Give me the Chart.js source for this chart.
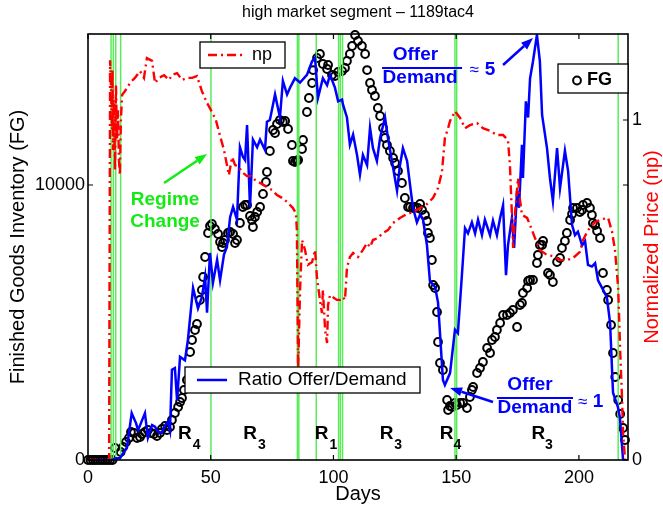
<!DOCTYPE html>
<html>
<head>
<meta charset="utf-8">
<script src="https://cdn.jsdelivr.net/npm/chart.js@4.4.1/dist/chart.umd.min.js"></script>
<style>
html,body{margin:0;padding:0;background:#fff;}
#wrap{width:663px;height:508px;position:relative;}
</style>
</head>
<body>
<div id="wrap"><canvas id="c" width="663" height="508"></canvas></div>
<script>
// ---------------- DATA ----------------
const chartTitle = 'high market segment \u2013 1189tac4';
const xTickValues = [0, 50, 100, 150, 200];
const fgTickValues = [0, 10000];
const npTickValues = [0, 1];
const regimeChangeDays = [9.4, 10.3, 11.3, 13.3, 50.1, 85.3, 85.9, 93.0, 102.1, 102.8, 103.7, 149.5, 150.2, 216.0];

// Finished goods inventory (FG): [day, units]
const fgInventory = [
[0,0],[1,0],[2,0],[3,0],[4,0],[5,0],[6,0],[7,0],[8,0],[9,0],[10,0],
[11.0,436],[13.3,291],[14.3,473],[15.5,655],[16.7,800],[17.5,1018],[18.7,982],[20.0,800],[21.2,836],[22.0,945],
[23.2,1018],[24.4,1091],[25.7,982],[26.9,945],[28.1,873],[29.3,982],[30.1,1127],[31.4,1236],[32.2,1091],[33.4,1200],
[34.2,1454],[35.4,1709],[36.7,1927],[37.5,2109],[38.3,2254],[39.1,2545],[40.3,2909],[41.6,3927],[42.4,4363],[43.6,4727],
[44.4,4945],[45.6,5818],[46.4,6181],[46.9,6654],[47.7,7381],[48.9,8254],[49.7,8508],[50.5,8581],[51.7,8399],[53.0,8217],
[53.8,7926],[54.6,7745],[55.0,7890],[55.8,7999],[57.0,8254],[57.9,8290],[59.1,8217],[59.9,7890],[60.7,7999],[61.9,8617],
[63.1,9199],[64.0,9272],[64.8,9272],[66.0,8872],[66.8,8726],[67.2,8472],[68.0,8835],[68.9,9017],[70.1,9199],[71.3,9672],
[72.5,10108],[72.9,10472],[74.1,11235],[75.4,11999],[76.2,11890],[77.0,12217],[78.2,12362],[79.4,12290],[80.3,12326],[81.5,12035],
[83.1,11453],[83.5,10872],[84.3,10835],[85.1,10872],[85.6,10908],[87.2,11308],[87.6,11635],[89.2,12653],[90.0,13162],[91.3,13708],
[91.7,14180],[93.3,14617],[94.5,14762],[95.7,14399],[97.4,14217],[97.8,14362],[99.4,13999],[100.6,13962],[101.9,14108],[103.5,14144],
[104.7,14253],[105.5,14508],[106.7,14762],[107.6,15053],[108.8,15453],[110.0,15235],[111.6,15053],[112.9,14762],[113.7,14180],[114.9,13708],
[115.7,13453],[116.9,13235],[118.1,12799],[119.0,12508],[120.2,12072],[121.0,11708],[121.8,11453],[123.0,11235],[124.3,10981],[125.1,10799],
[126.3,10508],[127.9,10072],[129.1,9526],[130.4,9199],[131.2,9199],[132.4,9163],[133.2,9199],[134.4,9163],[135.3,9308],[136.1,9090],
[137.3,8908],[138.1,8690],[138.5,8254],[139.3,8072],[140.1,7272],[140.6,6363],[141.4,6254],[142.2,5381],[142.6,4290],[143.4,3527],
[144.6,3272],[146.3,2182],[146.7,1818],[147.5,1963],[148.3,1927],[149.5,2073],[150.3,2000],[151.6,2073],[152.8,2073],[154.4,1891],
[155.6,2291],[156.4,2545],[156.9,2654],[158.5,3163],[159.7,3345],[160.9,3563],[162.6,4072],[163.8,3891],[164.6,4363],[165.8,4472],
[166.6,4727],[167.9,4981],[169.1,5272],[170.7,5272],[171.9,5345],[173.1,5454],[174.8,4836],[176.0,5636],[176.8,5708],[177.2,6072],
[178.9,6254],[179.3,6508],[180.1,6545],[181.3,6545],[182.9,7163],[183.3,7454],[184.1,7817],[185.0,7817],[185.4,7963],[187.4,6799],
[188.2,6727],[189.4,6472],[191.1,7199],[192.3,7345],[193.1,7708],[194.3,7963],[195.1,8254],[196.4,8726],[197.2,8944],[197.6,9163],
[199.2,9163],[200.4,9017],[201.3,9090],[201.7,9272],[203.3,9345],[204.5,9163],[205.3,8908],[205.7,8617],[206.6,8545],[207.4,8326],
[208.6,8072],[209.8,6799],[211.4,6181],[211.9,5818],[213.1,4908],[213.9,3890],[214.8,3018],[216.0,2182],[216.8,1673],[218.0,1164],[218.8,727]
];

// Ratio Offer/Demand: [day, ratio]
const ratioOfferDemand = [
[0,0],[9.8,0],[11.4,0.02],[13.0,0.02],[15.9,0.15],[17.8,0.55],[19.6,0.43],[20.4,0.35],[23.2,0.55],[24.4,0.26],
[26.1,0.41],[27.3,0.39],[28.5,0.33],[30.1,0.32],[31.4,0.41],[32.6,0.45],[33.4,0.35],[34.2,1.06],[35.4,1.08],[36.3,0.70],
[37.5,1.21],[39.5,1.17],[40.7,1.41],[42.8,2.02],[44.8,1.78],[46.4,1.91],[47.7,2.15],[48.5,1.73],[49.7,2.43],[50.9,2.08],
[52.6,2.35],[53.8,2.11],[55.4,2.41],[56.6,2.50],[57.9,2.85],[59.1,2.97],[60.7,2.82],[61.9,3.67],[63.1,3.56],[64.0,3.52],
[64.8,3.93],[66.0,2.97],[67.2,3.76],[68.9,3.67],[70.1,3.76],[72.1,3.64],[72.9,3.97],[74.1,3.99],[76.2,4.29],[78.2,4.02],
[79.4,4.45],[81.1,4.29],[82.3,4.37],[84.3,4.48],[86.4,4.43],[89.2,4.52],[91.3,4.68],[92.5,4.72],[93.7,4.25],[95.7,4.48],
[97.4,4.40],[98.6,4.52],[100.6,4.37],[101.9,4.21],[103.5,4.23],[103.9,4.17],[105.5,4.02],[106.7,3.70],[108.0,3.82],[109.6,3.58],
[110.8,3.35],[112.0,3.58],[113.7,3.46],[114.9,3.90],[116.1,3.66],[117.7,3.51],[119.0,3.78],[121.0,4.02],[122.2,3.78],[124.3,3.43],
[125.9,3.16],[127.1,3.46],[128.3,3.66],[130.0,3.51],[131.2,3.23],[132.4,2.96],[134.0,2.79],[135.3,2.88],[136.5,2.82],[138.1,2.52],
[139.3,2.10],[141.4,2.03],[142.6,1.85],[143.4,1.49],[144.6,0.94],[145.4,0.88],[147.5,1.02],[149.5,1.53],[150.7,1.49],[152.4,2.20],
[153.6,2.72],[154.8,2.66],[156.4,2.79],[157.7,2.66],[158.9,2.82],[160.5,2.64],[161.7,2.82],[163.8,2.64],[165.0,2.81],[166.6,2.64],
[167.9,2.84],[169.1,2.99],[170.3,2.17],[171.1,2.52],[172.7,2.84],[173.6,2.49],[174.8,3.16],[175.6,2.96],[176.8,3.70],[177.2,3.31],
[178.4,4.21],[179.3,4.02],[180.1,4.48],[181.3,4.68],[182.9,4.99],[184.1,4.68],[185.0,4.05],[187.0,3.66],[188.2,3.31],[189.4,3.04],
[191.1,3.66],[192.3,3.19],[194.3,3.63],[195.6,3.39],[197.2,2.76],[198.4,2.64],[199.6,2.68],[201.3,2.52],[202.5,2.57],[203.7,2.29],
[205.3,2.27],[206.6,2.31],[207.8,2.11],[209.8,2.00],[211.4,1.91],[212.7,1.61],[213.9,0.79],[215.9,0.62],[216.7,0.50],[218.0,0]
];

// Normalized price (np): [day, price]
const normalizedPrice = [
[0,0],[8.1,0],[8.6,0],[9.0,1.176],[9.4,1.088],[9.8,0.971],[10.0,1.147],[10.2,0.912],[10.6,1.059],[11.0,0.853],
[11.4,1.103],[11.8,0.941],[12.2,1.029],[12.6,0.882],[13.0,0.838],[13.4,1.0],[13.9,1.074],[15.1,1.085],[17.1,1.109],[19.1,1.124],
[21.2,1.144],[22.8,1.124],[24.0,1.182],[26.1,1.174],[27.3,1.109],[28.9,1.124],[31.0,1.132],[33.0,1.118],[34.2,1.132],[36.3,1.138],
[38.3,1.118],[40.3,1.124],[42.4,1.124],[44.4,1.129],[46.4,1.085],[48.5,1.050],[50.5,1.024],[52.1,1.0],[53.8,0.953],[55.4,0.912],
[56.6,0.868],[57.4,0.838],[58.7,0.891],[59.9,0.868],[61.5,0.862],[62.7,0.847],[64.8,0.835],[66.4,0.835],[68.0,0.824],[70.1,0.815],
[72.9,0.803],[75.0,0.794],[77.0,0.779],[79.0,0.771],[81.1,0.759],[83.5,0.741],[84.7,0.726],[85.1,0.676],[85.6,0.265],[86.0,0.382],
[86.4,0.5],[87.2,0.647],[88.4,0.618],[89.6,0.574],[91.3,0.582],[92.5,0.618],[93.3,0.535],[94.5,0.471],[95.3,0.432],[95.7,0.5],
[96.6,0.382],[97.4,0.344],[97.8,0.456],[98.6,0.485],[99.8,0.479],[101.4,0.471],[102.7,0.471],[103.9,0.479],[104.7,0.471],[105.5,0.565],
[106.7,0.597],[108.0,0.609],[110.0,0.597],[112.0,0.618],[113.7,0.638],[114.9,0.626],[116.1,0.647],[118.1,0.653],[120.2,0.668],[122.2,0.676],
[124.3,0.697],[127.1,0.712],[130.0,0.724],[132.4,0.729],[135.3,0.741],[138.1,0.753],[140.6,0.771],[142.6,0.8],[144.2,0.847],[145.4,0.947],
[146.7,0.976],[147.5,0.997],[149.5,1.026],[151.6,1.006],[153.6,0.976],[155.6,0.985],[158.5,0.991],[160.9,0.976],[163.8,0.968],[166.6,0.956],
[169.1,0.956],[171.1,0.941],[171.9,0.868],[172.7,0.721],[173.2,0.624],[174.0,0.729],[175.2,0.829],[176.0,0.765],[176.8,0.721],[178.9,0.712],
[180.1,0.691],[182.1,0.653],[184.1,0.618],[187.0,0.603],[189.4,0.6],[192.3,0.588],[195.1,0.588],[197.6,0.594],[200.4,0.612],[201.7,0.647],
[203.7,0.676],[206.6,0.7],[209.8,0.709],[211.9,0.712],[213.5,0.671],[214.7,0.618],[215.5,0.55],[216.0,0.506],[216.8,0.324],[217.6,0.176],
[218.0,0.079],[218.8,0]
];

// ---------------- STYLE / LAYOUT ----------------
const FONT = "'Liberation Sans', Arial, Helvetica, sans-serif";
const GREEN_LINE = 'rgb(90,235,90)';
const GREEN_TEXT = 'rgb(20,235,20)';
const BLUE = '#0000ff';
const RED = '#ff0000';
const FG_MAX = 15490, NP_MAX = 1.253, RATIO_MAX = 5.0, DAY_MAX = 220;

const toXY = arr => arr.map(p => ({x: p[0], y: p[1]}));

const datasets = [];
datasets.push({
  label: 'np', data: toXY(normalizedPrice), yAxisID: 'y2', order: 0,
  borderColor: RED, borderWidth: 2.4, borderDash: [9, 4, 2, 4], pointRadius: 0, tension: 0, fill: false
});
datasets.push({
  label: 'Ratio Offer/Demand', data: toXY(ratioOfferDemand), yAxisID: 'yR', order: 1,
  borderColor: BLUE, borderWidth: 2.5, pointRadius: 0, tension: 0, fill: false
});
regimeChangeDays.forEach(d => {
  datasets.push({
    label: 'regime', data: [{x: d, y: 0}, {x: d, y: FG_MAX}], yAxisID: 'y', order: 2,
    borderColor: GREEN_LINE, borderWidth: 1.5, pointRadius: 0, fill: false
  });
});
datasets.push({
  label: 'FG', data: toXY(fgInventory), yAxisID: 'y', order: 3, showLine: false, clip: false,
  pointStyle: 'circle', pointRadius: 3.9, pointBorderWidth: 2, pointBorderColor: '#000',
  pointBackgroundColor: 'rgba(0,0,0,0)', borderColor: '#000'
});

function arrow(ctx, x1, y1, x2, y2, color, w) {
  const a = Math.atan2(y2 - y1, x2 - x1), L = 12, W = 4.5;
  const bx = x2 - L * Math.cos(a), by = y2 - L * Math.sin(a);
  ctx.save();
  ctx.strokeStyle = color; ctx.fillStyle = color; ctx.lineWidth = w; ctx.setLineDash([]);
  ctx.beginPath(); ctx.moveTo(x1, y1); ctx.lineTo(bx, by); ctx.stroke();
  ctx.beginPath(); ctx.moveTo(x2, y2);
  ctx.lineTo(bx + W * Math.sin(a), by - W * Math.cos(a));
  ctx.lineTo(bx - W * Math.sin(a), by + W * Math.cos(a));
  ctx.closePath(); ctx.fill();
  ctx.restore();
}

const decor = {
  id: 'decor',
  afterDatasetsDraw(chart) {
    const ctx = chart.ctx;
    const {left, right, top, bottom} = chart.chartArea;
    const sx = chart.scales.x, sy = chart.scales.y, s2 = chart.scales.y2;
    const X = d => sx.getPixelForValue(d), Y = v => sy.getPixelForValue(v);
    ctx.save();
    // frame
    ctx.strokeStyle = '#000'; ctx.lineWidth = 1.6; ctx.setLineDash([]);
    ctx.strokeRect(left, top, right - left, bottom - top);
    // inward ticks
    ctx.lineWidth = 1.2;
    ctx.beginPath();
    xTickValues.forEach(v => { const x = X(v); ctx.moveTo(x, bottom); ctx.lineTo(x, bottom - 5); ctx.moveTo(x, top); ctx.lineTo(x, top + 5); });
    fgTickValues.forEach(v => { const y = Y(v); ctx.moveTo(left, y); ctx.lineTo(left + 5, y); ctx.moveTo(right, y); ctx.lineTo(right - 5, y); });
    npTickValues.forEach(v => { const y = s2.getPixelForValue(v); ctx.moveTo(right, y); ctx.lineTo(right - 5, y); });
    ctx.stroke();

    // Regime Change annotation
    ctx.textAlign = 'center'; ctx.textBaseline = 'middle';
    ctx.fillStyle = GREEN_TEXT; ctx.font = 'bold 19px ' + FONT;
    ctx.fillText('Regime', X(31.4), Y(9454));
    ctx.fillText('Change', X(31.4), Y(8654));
    arrow(ctx, X(31.0), Y(10072), X(48.5), Y(11126), GREEN_TEXT, 2.5);

    // Offer/Demand ~ 5
    ctx.fillStyle = BLUE; ctx.strokeStyle = BLUE;
    ctx.font = 'bold 19px ' + FONT;
    ctx.fillText('Offer', X(133.4), Y(14726));
    ctx.fillText('Demand', X(135.3), Y(13890));
    ctx.lineWidth = 2.2; ctx.beginPath(); ctx.moveTo(X(119.8), Y(14253)); ctx.lineTo(X(152.4), Y(14253)); ctx.stroke();
    ctx.font = '17px ' + FONT; ctx.fillText('\u2248', X(157.3), Y(14180));
    ctx.font = 'bold 19px ' + FONT; ctx.fillText('5', X(163.8), Y(14180));
    arrow(ctx, X(169.1), Y(14362), X(181.3), Y(15344), BLUE, 2.5);

    // Offer/Demand ~ 1
    ctx.fillStyle = BLUE; ctx.strokeStyle = BLUE;
    ctx.font = 'bold 19px ' + FONT;
    ctx.fillText('Offer', X(180.1), Y(2727));
    ctx.fillText('Demand', X(182.1), Y(1891));
    ctx.lineWidth = 2.2; ctx.beginPath(); ctx.moveTo(X(166.6), Y(2254)); ctx.lineTo(X(197.6), Y(2254)); ctx.stroke();
    ctx.font = '17px ' + FONT; ctx.fillText('\u2248', X(201.5), Y(2109));
    ctx.font = 'bold 19px ' + FONT; ctx.fillText('1', X(207.8), Y(2109));
    arrow(ctx, X(165.0), Y(2109), X(147.5), Y(2618), BLUE, 2.5);

    // Regime labels
    ctx.fillStyle = '#000';
    const regLabels = [[39.5, '4', 44.3], [66.0, '3', 70.8], [95.2, '1', 100.0], [121.7, '3', 126.4], [146.1, '4', 150.5], [183.5, '3', 187.8]];
    regLabels.forEach(r => {
      ctx.font = 'bold 19px ' + FONT; ctx.fillText('R', X(r[0]), Y(945));
      ctx.font = 'bold 14px ' + FONT; ctx.fillText(r[1], X(r[2]), Y(530));
    });

    // legends
    ctx.lineWidth = 1.3; ctx.strokeStyle = '#000'; ctx.fillStyle = '#fff';
    // np
    ctx.fillRect(200, 42, 85, 26); ctx.strokeRect(200, 42, 85, 26);
    ctx.save(); ctx.strokeStyle = RED; ctx.lineWidth = 2.4; ctx.setLineDash([9, 4, 2, 4]);
    ctx.beginPath(); ctx.moveTo(208, 55); ctx.lineTo(244, 55); ctx.stroke(); ctx.restore();
    ctx.fillStyle = '#000'; ctx.textAlign = 'left'; ctx.font = '18px ' + FONT;
    ctx.fillText('np', 252, 55);
    // FG
    ctx.fillStyle = '#fff'; ctx.fillRect(558, 64, 70, 29); ctx.strokeRect(558, 64, 70, 29);
    ctx.save(); ctx.lineWidth = 2; ctx.strokeStyle = '#000'; ctx.beginPath(); ctx.arc(577, 80.5, 3.9, 0, Math.PI * 2); ctx.stroke(); ctx.restore();
    ctx.fillStyle = '#000'; ctx.font = 'bold 18px ' + FONT; ctx.fillText('FG', 587, 80.5);
    // Ratio
    ctx.fillStyle = '#fff'; ctx.fillRect(185, 367, 235, 26); ctx.strokeRect(185, 367, 235, 26);
    ctx.save(); ctx.strokeStyle = BLUE; ctx.lineWidth = 2.5; ctx.beginPath(); ctx.moveTo(197, 380); ctx.lineTo(227, 380); ctx.stroke(); ctx.restore();
    ctx.fillStyle = '#000'; ctx.font = '19px ' + FONT; ctx.fillText('Ratio Offer/Demand', 238, 380);

    // title
    ctx.textAlign = 'center'; ctx.font = '16px ' + FONT; ctx.fillStyle = '#000';
    ctx.fillText(chartTitle, (left + right) / 2, 13);
    // right axis title
    ctx.save(); ctx.translate(652, (top + bottom) / 2); ctx.rotate(-Math.PI / 2);
    ctx.fillStyle = RED; ctx.font = '20px ' + FONT; ctx.fillText('Normalized Price (np)', 0, 0);
    ctx.restore();
    ctx.restore();
  }
};

new Chart(document.getElementById('c'), {
  type: 'line',
  data: { datasets },
  options: {
    responsive: false, animation: false, devicePixelRatio: 1,
    layout: { padding: { top: 34, left: 0, right: 0, bottom: 0 } },
    plugins: { legend: { display: false }, tooltip: { enabled: false }, title: { display: false } },
    scales: {
      x: {
        type: 'linear', position: 'bottom', min: 0, max: DAY_MAX,
        afterBuildTicks: s => { s.ticks = xTickValues.map(v => ({value: v})); },
        ticks: { padding: 7, color: '#000', font: { family: FONT, size: 18 }, maxRotation: 0, autoSkip: false, callback: v => String(v) },
        grid: { display: false, drawTicks: false }, border: { display: false },
        title: { display: true, text: 'Days', color: '#000', font: { family: FONT, size: 20 }, padding: { top: 0, bottom: 2 } },
        afterFit: s => { s.height = 48; }
      },
      y: {
        type: 'linear', position: 'left', min: 0, max: FG_MAX,
        afterBuildTicks: s => { s.ticks = fgTickValues.map(v => ({value: v})); },
        ticks: { padding: 3, color: '#000', font: { family: FONT, size: 18 }, autoSkip: false, callback: v => String(v) },
        grid: { display: false, drawTicks: false }, border: { display: false },
        title: { display: true, text: 'Finished Goods Inventory (FG)', color: '#000', font: { family: FONT, size: 20 }, padding: { top: 6, bottom: 0 } },
        afterFit: s => { s.width = 88; }
      },
      y2: {
        type: 'linear', position: 'right', min: 0, max: NP_MAX,
        afterBuildTicks: s => { s.ticks = npTickValues.map(v => ({value: v})); },
        ticks: { padding: 4, color: '#000', font: { family: FONT, size: 18 }, autoSkip: false, callback: v => String(v) },
        grid: { display: false, drawTicks: false }, border: { display: false },
        afterFit: s => { s.width = 35; }
      },
      yR: { type: 'linear', display: false, min: 0, max: RATIO_MAX }
    }
  },
  plugins: [decor]
});
</script>
</body>
</html>
